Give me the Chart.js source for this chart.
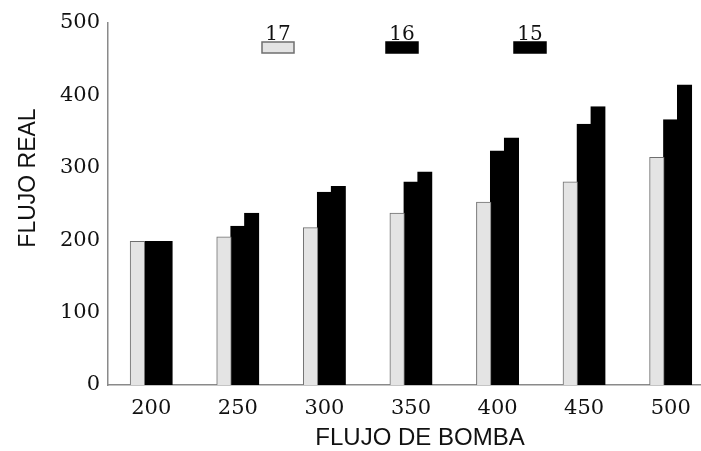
<!DOCTYPE html>
<html lang="es">
  <head>
    <meta charset="UTF-8" />
    <title>Flujo real vs flujo de bomba</title>
    <script src="https://cdn.jsdelivr.net/npm/chart.js"></script>
    <style>
      html,
      body {
        margin: 0;
        padding: 0;
        background: #fff;
        overflow: hidden;
      }
      .chart-box {
        width: 714px;
        height: 451px;
      }
    </style>
  </head>
  <body>
    <div class="chart-box">
      <canvas id="flujoChart" width="714" height="451"></canvas>
    </div>
    <script>
      const categories = ["200", "250", "300", "350", "400", "450", "500"];
      const seriesNames = ["17", "16", "15"];
      const serie17 = [198, 204, 217, 237, 252, 280, 314];
      const serie16 = [198, 219, 266, 280, 323, 360, 366];
      const serie15 = [198, 237, 274, 294, 341, 384, 414];
      const yTicks = [0, 100, 200, 300, 400, 500];

      const fills = ["#e4e4e4", "#000000", "#000000"];
      const borders = ["#6f6f6f", "#000000", "#000000"];

      // legend (label above small box) and the two axis titles
      const extras = {
        id: "extras",
        afterDraw(chart) {
          const ctx = chart.ctx;
          const centers = [278, 402, 530];
          ctx.save();
          chart.data.datasets.forEach((ds, i) => {
            const cx = centers[i];
            ctx.fillStyle = "#111";
            ctx.font = "20px 'DejaVu Serif'";
            ctx.textAlign = "center";
            ctx.textBaseline = "alphabetic";
            ctx.fillText(ds.label, cx, 40);
            ctx.fillStyle = ds.backgroundColor;
            ctx.fillRect(cx - 16, 42, 32, 11);
            ctx.strokeStyle = ds.borderColor;
            ctx.lineWidth = 1.5;
            ctx.strokeRect(cx - 16, 42, 32, 11);
          });

          ctx.fillStyle = "#111";
          ctx.textAlign = "center";
          ctx.textBaseline = "middle";
          ctx.font = "24px 'Liberation Sans'";
          ctx.fillText("FLUJO DE BOMBA", 420, 438);

          ctx.translate(29, 178);
          ctx.rotate(-Math.PI / 2);
          ctx.font = "23px 'Liberation Sans'";
          ctx.fillText("FLUJO REAL", 0, 0);
          ctx.restore();
        },
      };

      const ctx = document.getElementById("flujoChart").getContext("2d");
      new Chart(ctx, {
        type: "bar",
        data: {
          labels: categories,
          datasets: [serie17, serie16, serie15].map((vals, i) => ({
            label: seriesNames[i],
            data: vals,
            backgroundColor: fills[i],
            borderColor: borders[i],
            borderWidth: 1,
            inflateAmount: 0.7,
            barPercentage: 1.0,
            categoryPercentage: 0.48,
          })),
        },
        options: {
          responsive: false,
          animation: false,
          layout: { padding: { top: 23, right: 0, left: 0, bottom: 0 } },
          plugins: {
            legend: { display: false },
            tooltip: { enabled: false },
          },
          scales: {
            x: {
              grid: { display: false, drawTicks: false },
              border: { display: true, color: "#8a8a8a", width: 1.5 },
              ticks: {
                color: "#111",
                padding: 11,
                font: { family: "'DejaVu Serif'", size: 21 },
              },
              afterFit(scale) {
                scale.height = 66;
              },
            },
            y: {
              min: 0,
              max: 500,
              afterBuildTicks(scale) {
                scale.ticks = yTicks.map((v) => ({ value: v }));
              },
              grid: { display: false, drawTicks: false },
              border: { display: true, color: "#8a8a8a", width: 1.5 },
              ticks: {
                color: "#111",
                padding: 8,
                font: { family: "'DejaVu Serif'", size: 21 },
              },
              afterFit(scale) {
                scale.width = 108;
              },
            },
          },
        },
        plugins: [extras],
      });
    </script>
  </body>
</html>
